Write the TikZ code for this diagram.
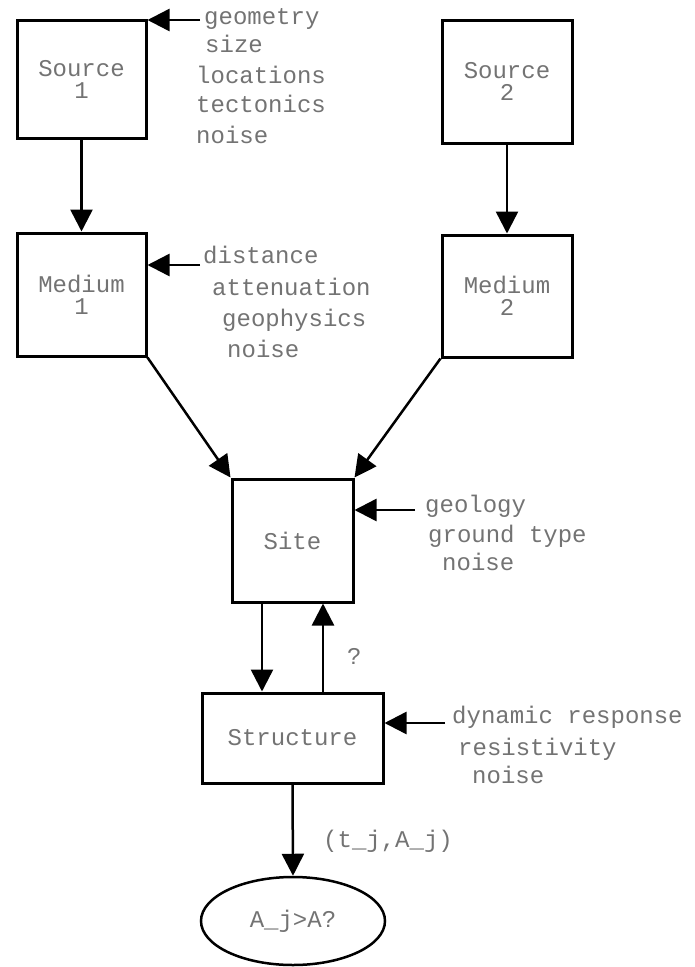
\documentclass[tikz,border=0pt]{standalone}
\usepackage{fontspec}
\newfontfamily\courfont{Liberation Mono}
\usetikzlibrary{arrows.meta,shapes.geometric,calc}
\definecolor{txtgray}{RGB}{115,115,115}
\begin{document}
\begin{tikzpicture}[x=1pt,y=-1pt,
  every node/.style={font=\courfont\fontsize{24}{22}\selectfont, text=txtgray},
  blockbox/.style={draw=black, line width=3pt, rectangle, inner sep=0pt, align=center},
  ovalbox/.style={draw=black, line width=2.5pt, ellipse, inner sep=0pt, minimum width=184pt, minimum height=88pt},
  conn/.style={draw=black, line width=2.5pt, -{Triangle[length=22pt,width=22pt]}},
  annot/.style={anchor=base west, inner sep=0pt}
]
\useasboundingbox (0,0) rectangle (695,967);

% boxes
\node[blockbox, minimum width=129pt, minimum height=118pt] (s1) at (81.5,79) {Source\\1};
\node[blockbox, minimum width=130pt, minimum height=123pt] (s2) at (507,81.5) {Source\\2};
\node[blockbox, minimum width=129pt, minimum height=123pt] (m1) at (81.5,294.5) {Medium\\1};
\node[blockbox, minimum width=130pt, minimum height=122pt] (m2) at (507,296) {Medium\\2};
\node[blockbox, minimum width=121pt, minimum height=123pt] (site) at (292.5,540.5) {Site};
\node[blockbox, minimum width=181pt, minimum height=90pt] (st) at (292.5,738) {Structure};
\node[ovalbox] (ell) at (293,921) {A\_j>A?};

% main connectors
\draw[conn] (s1.south) -- (m1.north);
\draw[conn] (s2.south) -- (m2.north);
\draw[conn] (m1.south east) -- (site.north west);
\draw[conn] (m2.south west) -- (site.north east);
\coordinate (dA) at (262,0);
\coordinate (dB) at (323,0);
\draw[conn] (site.south -| dA) -- (st.north -| dA);
\draw[conn] (st.north -| dB) -- (site.south -| dB);
\draw[conn] (st.south) -- (ell.north);
\node[annot] (q) at (347,664) {?};
\node[annot] (tj) at (323,847) {(t\_j,A\_j)};

% annotation arrows
\coordinate (a1) at (200,20);
\coordinate (a2) at (200,265);
\coordinate (a3) at (415,510);
\coordinate (a4) at (445,723);
\draw[conn] (a1) -- (a1 -| s1.east);
\draw[conn] (a2) -- (a2 -| m1.east);
\draw[conn] (a3) -- (a3 -| site.east);
\draw[conn] (a4) -- (a4 -| st.east);

% annotation texts
\node[annot] (t11) at (204,24) {geometry};
\node[annot] (t12) at (205,52) {size};
\node[annot] (t13) at (196,83) {locations};
\node[annot] (t14) at (196,112) {tectonics};
\node[annot] (t15) at (196,143) {noise};

\node[annot] (t21) at (203,263) {distance};
\node[annot] (t22) at (212,295) {attenuation};
\node[annot] (t23) at (222,326) {geophysics};
\node[annot] (t24) at (227,357) {noise};

\node[annot] (t31) at (425,512) {geology};
\node[annot] (t32) at (428,542) {ground type};
\node[annot] (t33) at (442,570) {noise};

\node[annot] (t41) at (452,723) {dynamic response};
\node[annot] (t42) at (458,755) {resistivity};
\node[annot] (t43) at (472,783) {noise};
\end{tikzpicture}
\end{document}
